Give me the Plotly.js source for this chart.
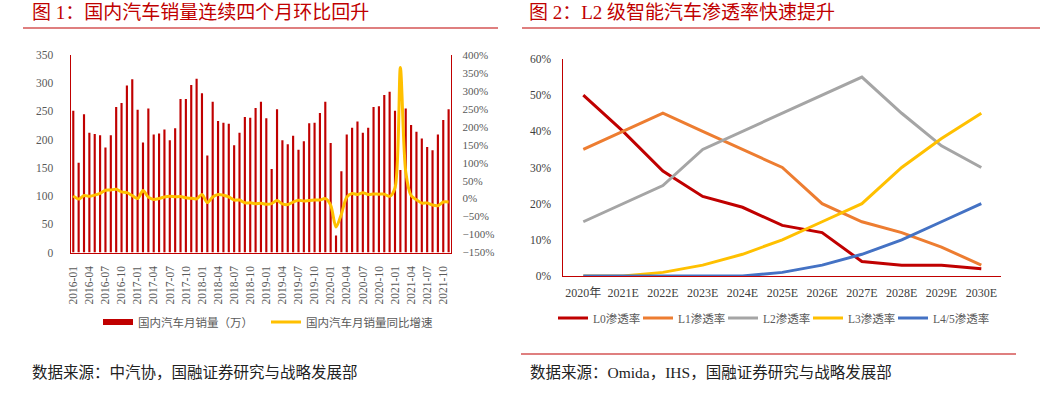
<!DOCTYPE html>
<html>
<head>
<meta charset="utf-8">
<script src="https://cdn.plot.ly/plotly-3.0.1.min.js"></script>
<style>
  html, body { margin: 0; padding: 0; background: #fff; }
  #chart { width: 1048px; height: 398px; }
</style>
</head>
<body>
<div id="chart"></div>
<script>
// ---------- Chart 1 data ----------
const months = [
  '2016-01','2016-02','2016-03','2016-04','2016-05','2016-06','2016-07','2016-08','2016-09','2016-10','2016-11','2016-12',
  '2017-01','2017-02','2017-03','2017-04','2017-05','2017-06','2017-07','2017-08','2017-09','2017-10','2017-11','2017-12',
  '2018-01','2018-02','2018-03','2018-04','2018-05','2018-06','2018-07','2018-08','2018-09','2018-10','2018-11','2018-12',
  '2019-01','2019-02','2019-03','2019-04','2019-05','2019-06','2019-07','2019-08','2019-09','2019-10','2019-11','2019-12',
  '2020-01','2020-02','2020-03','2020-04','2020-05','2020-06','2020-07','2020-08','2020-09','2020-10','2020-11','2020-12',
  '2021-01','2021-02','2021-03','2021-04','2021-05','2021-06','2021-07','2021-08','2021-09','2021-10','2021-11'
];
const salesWan = [
  251, 159, 245, 212, 210, 208, 186, 208, 258, 265, 296, 307,
  253, 195, 255, 209, 211, 218, 199, 220, 272, 272, 297, 308,
  282, 172, 267, 233, 230, 228, 190, 212, 240, 239, 256, 267,
  238, 148, 254, 199, 192, 207, 182, 197, 229, 230, 247, 267,
  194,  30, 144, 209, 221, 232, 212, 221, 258, 259, 279, 285,
  251, 146, 255, 226, 214, 202, 187, 181, 209, 235, 254
];
const yoyPct = [
   7.5,  -1.3,   8.8,   6.3,   9.8,  14.6,  23.4,  24.2,  26.0,  18.8,  16.6,   8.4,
   0.2,  22.4,   4.1,  -2.2,   0.2,   4.5,   6.9,   5.3,   5.7,   2.2,   1.0,  -0.6,
  11.6, -11.1,   4.7,  11.5,   9.6,   4.8,  -4.0,  -3.8, -11.6, -11.7, -13.9, -13.0,
 -15.8, -13.8,  -5.2, -14.6, -16.4,  -9.6,  -4.3,  -6.9,  -5.2,  -4.0,  -3.6,   0.1,
 -18.0, -79.1, -43.3,   4.4,  14.5,  11.6,  16.4,  11.6,  12.8,  12.5,  12.6,   6.4,
  29.5, 364.9,  74.9,   8.6,  -3.1, -12.4, -11.9, -17.8, -19.6,  -9.4,  -9.1
];
const monthTicks = [
  '2016-01','2016-04','2016-07','2016-10','2017-01','2017-04','2017-07','2017-10',
  '2018-01','2018-04','2018-07','2018-10','2019-01','2019-04','2019-07','2019-10',
  '2020-01','2020-04','2020-07','2020-10','2021-01','2021-04','2021-07','2021-10'
];
const salesName = '国内汽车月销量（万）';
const yoyName = '国内汽车月销量同比增速';

// ---------- Chart 2 data ----------
const years = ['2020年','2021E','2022E','2023E','2024E','2025E','2026E','2027E','2028E','2029E','2030E'];
const l0 = [50, 40, 29, 22, 19, 14, 12, 4, 3, 3, 2];
const l1 = [35, 40, 45, 40, 35, 30, 20, 15, 12, 8, 3];
const l2 = [15, 20, 25, 35, 40, 45, 50, 55, 45, 36, 30];
const l3 = [0, 0, 1, 3, 6, 10, 15, 20, 30, 38, 45];
const l45 = [0, 0, 0, 0, 0, 1, 3, 6, 10, 15, 20];
const levelNames = ['L0渗透率', 'L1渗透率', 'L2渗透率', 'L3渗透率', 'L4/5渗透率'];

// ---------- Texts ----------
const title1 = '图 1：国内汽车销量连续四个月环比回升';
const title2 = '图 2：L2 级智能汽车渗透率快速提升';
const source1 = '数据来源：中汽协，国融证券研究与战略发展部';
const source2 = '数据来源：Omida，IHS，国融证券研究与战略发展部';

// ---------- Styles ----------
const W = 1048, H = 398;
const px = v => v / W;
const py = v => 1 - v / H;
const FONT = "'Liberation Serif', 'Noto Sans CJK SC', serif";
const RED = '#C00000';
const GREY = '#595959';
const seriesColors = ['#C00000', '#ED7D31', '#A5A5A5', '#FFC000', '#4472C4'];

const traces = [
  {
    type: 'bar', x: months, y: salesWan, xaxis: 'x', yaxis: 'y',
    marker: { color: RED }, showlegend: false, name: salesName, hoverinfo: 'x+y'
  },
  {
    // legend-only entry drawn as a thick bar swatch (values all empty)
    type: 'scatter', mode: 'lines', x: months, y: months.map(() => null), xaxis: 'x', yaxis: 'y',
    name: salesName, line: { color: RED, width: 6 }, legend: 'legend', showlegend: true
  },
  {
    type: 'scatter', mode: 'lines', x: months, y: yoyPct, xaxis: 'x', yaxis: 'y2',
    name: yoyName, line: { color: '#FFC000', width: 3, shape: 'spline', smoothing: 0.8 },
    legend: 'legend'
  }
];
[l0, l1, l2, l3, l45].forEach((vals, i) => {
  const t = {
    type: 'scatter', mode: 'lines', x: years, y: vals, xaxis: 'x2', yaxis: 'y3',
    name: levelNames[i], line: { color: seriesColors[i], width: 3 }, legend: 'legend2'
  };
  if (i === 4) t.legendwidth = 70;
  traces.push(t);
});

const layout = {
  width: W, height: H,
  margin: { l: 0, r: 0, t: 0, b: 0 },
  paper_bgcolor: '#fff', plot_bgcolor: 'rgba(0,0,0,0)',
  font: { family: FONT, color: GREY, size: 12 },
  bargap: 0.6,
  xaxis: {
    domain: [px(70.6), px(451.3)], anchor: 'y',
    type: 'category', range: [-0.5, months.length - 0.5],
    tickmode: 'array', tickvals: monthTicks, ticktext: monthTicks,
    tickangle: -90, ticks: '', showgrid: false, zeroline: false,
    showline: true, linecolor: RED, linewidth: 1,
    tickfont: { size: 11.5, color: GREY, family: FONT }, ticklabelstandoff: 8
  },
  yaxis: {
    domain: [py(252.5), py(55)], anchor: 'x',
    range: [0, 350], dtick: 50, tick0: 0, showgrid: false, zeroline: false,
    showline: true, linecolor: RED, linewidth: 1, ticks: '',
    tickfont: { size: 11.5, color: GREY, family: FONT }, ticklabelstandoff: 14
  },
  yaxis2: {
    overlaying: 'y', side: 'right', anchor: 'x',
    range: [-150, 400], dtick: 50, tick0: 0, ticksuffix: '%',
    showgrid: false, zeroline: false,
    showline: true, linecolor: RED, linewidth: 1, ticks: '',
    tickfont: { size: 11, color: GREY, family: FONT }, ticklabelstandoff: 8
  },
  xaxis2: {
    domain: [px(563.4), px(1001.2)], anchor: 'y3',
    type: 'category', range: [-0.5, years.length - 0.5],
    ticks: '', showgrid: false, zeroline: false,
    showline: true, linecolor: RED, linewidth: 1,
    tickfont: { size: 12, color: '#404040', family: FONT }, ticklabelstandoff: 6
  },
  yaxis3: {
    domain: [py(276), py(59)], anchor: 'x2',
    range: [0, 60], dtick: 10, tick0: 0, ticksuffix: '%',
    showgrid: false, zeroline: false,
    showline: true, linecolor: RED, linewidth: 1, ticks: '',
    tickfont: { size: 11.5, color: '#404040', family: FONT }, ticklabelstandoff: 9
  },
  legend: {
    orientation: 'h', x: px(98), xanchor: 'left', y: py(322), yanchor: 'middle',
    font: { size: 11.5, color: GREY, family: FONT },
    entrywidth: 123, bgcolor: 'rgba(0,0,0,0)', borderwidth: 0
  },
  legend2: {
    orientation: 'h', x: px(553), xanchor: 'left', y: py(318), yanchor: 'middle',
    font: { size: 11.5, color: GREY, family: FONT },
    entrywidth: 40, bgcolor: 'rgba(0,0,0,0)', borderwidth: 0
  },
  annotations: [
    { text: title1, xref: 'paper', yref: 'paper', x: px(30), y: py(13), xanchor: 'left', yanchor: 'middle',
      showarrow: false, font: { size: 19, color: RED, family: FONT } },
    { text: title2, xref: 'paper', yref: 'paper', x: px(527), y: py(13), xanchor: 'left', yanchor: 'middle',
      showarrow: false, font: { size: 19, color: RED, family: FONT } },
    { text: source1, xref: 'paper', yref: 'paper', x: px(30), y: py(372), xanchor: 'left', yanchor: 'middle',
      showarrow: false, font: { size: 15.5, color: '#222', family: FONT } },
    { text: source2, xref: 'paper', yref: 'paper', x: px(528), y: py(372), xanchor: 'left', yanchor: 'middle',
      showarrow: false, font: { size: 15.5, color: '#222', family: FONT } }
  ],
  shapes: [
    { type: 'line', xref: 'paper', yref: 'paper', x0: px(23), x1: px(498), y0: py(28), y1: py(28),
      line: { color: RED, width: 1.2 } },
    { type: 'line', xref: 'paper', yref: 'paper', x0: px(522), x1: px(1040), y0: py(28), y1: py(28),
      line: { color: RED, width: 1.2 } },
    { type: 'line', xref: 'paper', yref: 'paper', x0: px(521), x1: px(1016), y0: py(354), y1: py(354),
      line: { color: RED, width: 1.2 } }
  ]
};

Plotly.newPlot('chart', traces, layout, { displayModeBar: false, staticPlot: true });
</script>
</body>
</html>
